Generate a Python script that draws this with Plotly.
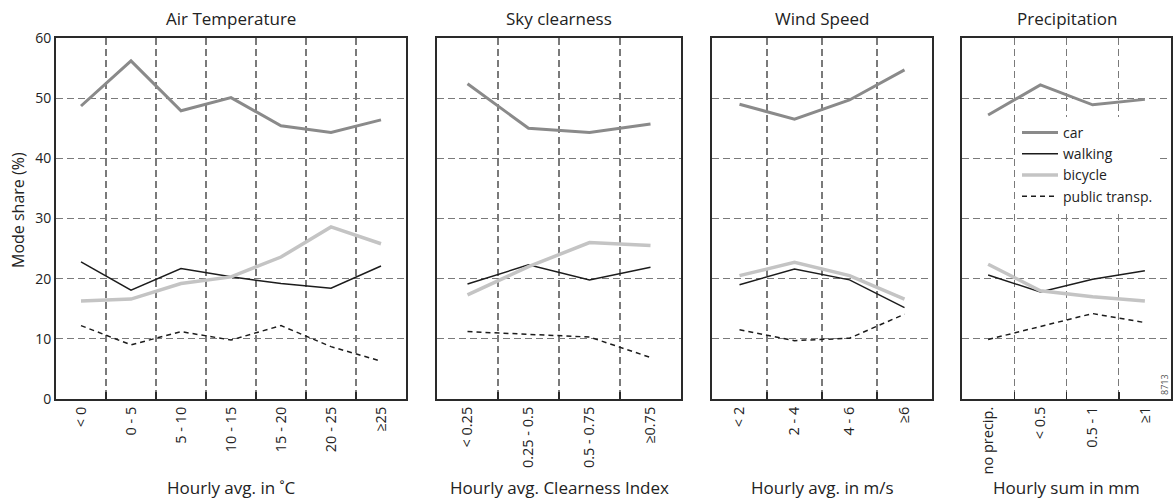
import plotly.graph_objects as go

# ---------------- data ----------------
temp_cats = ["< 0", "0 - 5", "5 - 10", "10 - 15", "15 - 20", "20 - 25", "≥25"]
car_temp = [48.7, 56.2, 47.9, 50.1, 45.4, 44.3, 46.4]
walk_temp = [22.8, 18.1, 21.7, 20.3, 19.2, 18.4, 22.1]
bike_temp = [16.3, 16.6, 19.2, 20.3, 23.6, 28.6, 25.8]
pt_temp = [12.2, 9.0, 11.2, 9.8, 12.2, 8.7, 6.3]

sky_cats = ["< 0.25", "0.25 - 0.5", "0.5 - 0.75", "≥0.75"]
car_sky = [52.4, 45.0, 44.3, 45.7]
walk_sky = [19.1, 22.3, 19.8, 21.9]
bike_sky = [17.3, 22.0, 26.0, 25.5]
pt_sky = [11.2, 10.7, 10.3, 6.9]

wind_cats = ["< 2", "2 - 4", "4 - 6", "≥6"]
car_wind = [49.0, 46.5, 49.7, 54.7]
walk_wind = [19.0, 21.6, 19.8, 15.2]
bike_wind = [20.5, 22.7, 20.5, 16.6]
pt_wind = [11.5, 9.7, 10.1, 14.1]

prec_cats = ["no precip.", "< 0.5", "0.5 - 1", "≥1"]
car_prec = [47.2, 52.2, 48.9, 49.8]
walk_prec = [20.6, 17.8, 19.9, 21.3]
bike_prec = [22.4, 18.0, 17.0, 16.3]
pt_prec = [9.9, 12.0, 14.2, 12.7]

panel_titles = ["Air Temperature", "Sky clearness", "Wind Speed", "Precipitation"]
axis_titles = ["Hourly avg. in ˚C", "Hourly avg. Clearness Index",
               "Hourly avg. in m/s", "Hourly sum in mm"]
mode_names = ["car", "walking", "bicycle", "public transp."]
y_title = "Mode share (%)"
y_ticks = [0, 10, 20, 30, 40, 50, 60]

# ---------------- styling ----------------
W, H = 1173, 500
FONT = "Open Sans"


def X(px):
    return px / W


def Y(py):
    return 1 - py / H


mode_styles = [
    dict(color="#8a8a8a", width=3, dash="solid"),
    dict(color="#1c1c1c", width=1.5, dash="solid"),
    dict(color="#c4c4c4", width=3.5, dash="solid"),
    dict(color="#1c1c1c", width=1.5, dash="5px,4px"),
]
panel_px = [(56, 406), (437, 681), (712, 932), (962, 1171)]
top_px, bot_px = 38, 399

panels = [
    (temp_cats, [car_temp, walk_temp, bike_temp, pt_temp]),
    (sky_cats, [car_sky, walk_sky, bike_sky, pt_sky]),
    (wind_cats, [car_wind, walk_wind, bike_wind, pt_wind]),
    (prec_cats, [car_prec, walk_prec, bike_prec, pt_prec]),
]

fig = go.Figure()
layout = dict(
    template="none",
    width=W, height=H,
    margin=dict(l=0, r=0, t=0, b=0, pad=0),
    paper_bgcolor="white", plot_bgcolor="white",
    font=dict(family=FONT, color="#222", size=14),
    showlegend=True,
)
annotations = []
grid_kw = dict(showgrid=True, gridcolor="#7a7a7a", gridwidth=1.2, griddash="7px,4px",
               showline=True, linecolor="#2a2a2a", linewidth=2, mirror=True,
               zeroline=False, automargin=False)

for i, ((cats, series), (x0, x1)) in enumerate(zip(panels, panel_px), start=1):
    xa = "x" if i == 1 else f"x{i}"
    ya = "y" if i == 1 else f"y{i}"
    for name, vals, st in zip(mode_names, series, mode_styles):
        fig.add_trace(go.Scatter(
            x=cats, y=vals, mode="lines", name=name,
            line=dict(color=st["color"], width=st["width"], dash=st["dash"]),
            xaxis=xa, yaxis=ya, showlegend=(i == 4), hoverinfo="skip"))
    layout["xaxis" if i == 1 else f"xaxis{i}"] = dict(
        type="category", categoryorder="array", categoryarray=cats,
        range=[-0.5, len(cats) - 0.5], domain=[X(x0), X(x1)], anchor=ya,
        tickson="boundaries", ticks="inside", ticklen=7, tickwidth=1.5,
        tickcolor="#2a2a2a", tickangle=-90,
        tickfont=dict(family=FONT, size=14.5, color="#222"), **grid_kw)
    layout["yaxis" if i == 1 else f"yaxis{i}"] = dict(
        range=[0, 60], tickvals=y_ticks, anchor=xa,
        domain=[Y(bot_px), Y(top_px)],
        showticklabels=(i == 1), ticks="",
        tickfont=dict(family=FONT, size=14, color="#222"), **grid_kw)
    cx = X((x0 + x1) / 2)
    annotations.append(dict(text=panel_titles[i - 1], x=cx, y=Y(18),
                            xref="paper", yref="paper", showarrow=False,
                            xanchor="center", yanchor="middle",
                            font=dict(family=FONT, size=17, color="#222")))
    annotations.append(dict(text=axis_titles[i - 1], x=cx, y=Y(487),
                            xref="paper", yref="paper", showarrow=False,
                            xanchor="center", yanchor="middle",
                            font=dict(family=FONT, size=17, color="#222")))

annotations.append(dict(text=y_title, x=X(18), y=Y(210), xref="paper", yref="paper",
                        showarrow=False, textangle=-90, xanchor="center", yanchor="middle",
                        font=dict(family=FONT, size=16, color="#222")))
annotations.append(dict(text="8713", x=X(1164), y=Y(385), xref="paper", yref="paper",
                        showarrow=False, textangle=-90, xanchor="center", yanchor="middle",
                        font=dict(family=FONT, size=9, color="#555")))

layout["annotations"] = annotations
layout["legend"] = dict(x=X(1017), y=Y(117), xanchor="left", yanchor="top",
                        bgcolor="white", borderwidth=0, tracegroupgap=0,
                        itemwidth=36,
                        font=dict(family=FONT, size=14, color="#222"))
fig.update_layout(**layout)
fig.write_html(
    "out.html",
    config={"displayModeBar": False, "staticPlot": True},
    post_script="document.body.style.margin='0';document.body.style.overflow='hidden';",
)
